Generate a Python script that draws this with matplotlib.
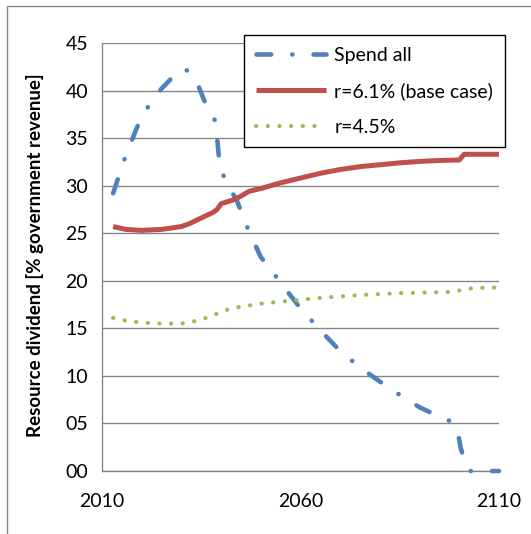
import matplotlib
matplotlib.use("Agg")
from matplotlib import pyplot as plt
from matplotlib.patches import Rectangle

plt.rcParams['font.family'] = ['Lato', 'DejaVu Sans']

# Spend all
spend_years = [2012.8, 2016, 2019, 2022, 2025, 2028, 2030, 2031, 2034, 2036, 2038.4, 2039.1,
               2039.6, 2041, 2044, 2047, 2050, 2055, 2060, 2065, 2070, 2075, 2080, 2085,
               2090, 2095, 2098, 2099.6, 2100.3, 2101.5, 2102.7, 2110]
spend_vals = [29.2, 33.2, 36.3, 38.6, 40.2, 41.5, 42.2, 42.3, 40.8, 38.7, 36.9, 34.6,
              32.2, 30.6, 28.4, 25.2, 22.5, 19.8, 17.1, 14.8, 12.6, 10.9, 9.4, 8.0,
              6.7, 5.7, 5.2, 4.2, 2.5, 0.8, 0.0, 0.0]

# r=6.1% (base case)
base_years = [2012.8, 2016, 2020, 2025, 2030, 2032, 2035, 2038, 2039, 2040, 2043, 2045,
              2047, 2050, 2055, 2060, 2065, 2070, 2075, 2080, 2085, 2090, 2095, 2100,
              2101.2, 2110]
base_vals = [25.7, 25.4, 25.3, 25.4, 25.7, 26.0, 26.6, 27.2, 27.5, 28.1, 28.5, 28.9,
             29.4, 29.7, 30.3, 30.8, 31.3, 31.7, 32.0, 32.2, 32.4, 32.55, 32.65, 32.7,
             33.3, 33.3]

# r=4.5%
low_years = [2012.8, 2016, 2020, 2025, 2030, 2034, 2037, 2041, 2044, 2050, 2055, 2060,
             2065, 2070, 2075, 2080, 2085, 2090, 2095, 2099, 2101, 2104, 2110]
low_vals = [16.1, 15.8, 15.6, 15.5, 15.5, 15.8, 16.2, 16.9, 17.2, 17.6, 17.8, 18.0,
            18.2, 18.35, 18.5, 18.6, 18.7, 18.75, 18.8, 18.85, 19.1, 19.25, 19.3]

xticks = [2010, 2060, 2110]
yticks = [0, 5, 10, 15, 20, 25, 30, 35, 40, 45]

fig = plt.figure(figsize=(5.31, 5.34), dpi=100)
fig.patches.append(Rectangle((7/531, -0.1), 1.2, 1 - 6/534 + 0.1, transform=fig.transFigure,
                             fill=False, edgecolor='#868686', linewidth=1))
ax = fig.add_axes([102/531, 63/534, 397/531, 428/534])

ax.plot(spend_years, spend_vals, color='#4F81BD', linewidth=3.3, label='Spend all',
        dashes=(3.2, 4.6, 0.05, 4.6), dash_capstyle='round', clip_on=False, zorder=3)
ax.plot(base_years, base_vals, color='#C0504D', linewidth=3.6, label='r=6.1% (base case)',
        solid_capstyle='butt', clip_on=False, zorder=3)
ax.plot(low_years, low_vals, color='#9BBB59', linewidth=3.0, label='r=4.5%',
        dashes=(0.05, 2.75), dash_capstyle='round', clip_on=False, zorder=3)

ax.set_xlim(2010, 2110)
ax.set_ylim(0, 45)
ax.set_xticks(xticks)
ax.set_yticks(yticks)
ax.set_yticklabels(['%02d' % v for v in yticks])
ax.tick_params(length=0, labelsize=14, pad=10)
ax.tick_params(axis='x', pad=16)
ax.grid(axis='y', color='#868686', linewidth=1)
ax.set_axisbelow(True)
for s in ['top', 'right']:
    ax.spines[s].set_visible(False)
for s in ['left', 'bottom']:
    ax.spines[s].set_color('#868686')
    ax.spines[s].set_linewidth(1)

ax.set_ylabel('Resource dividend [% government revenue]', fontsize=13.5, fontweight='bold')
ax.yaxis.set_label_coords(-58/397, (471-255)/428)

leg = ax.legend(loc='upper left', bbox_to_anchor=(244/531, 1 - 35/534), bbox_transform=fig.transFigure,
                fontsize=14, frameon=True, fancybox=False, borderaxespad=0, handlelength=3.6,
                labelspacing=0.95, handletextpad=0.45, borderpad=0.6)
leg.get_frame().set_edgecolor('black')
leg.get_frame().set_linewidth(1)
leg.get_frame().set_alpha(1)

fig.savefig('out.png', dpi=100)
